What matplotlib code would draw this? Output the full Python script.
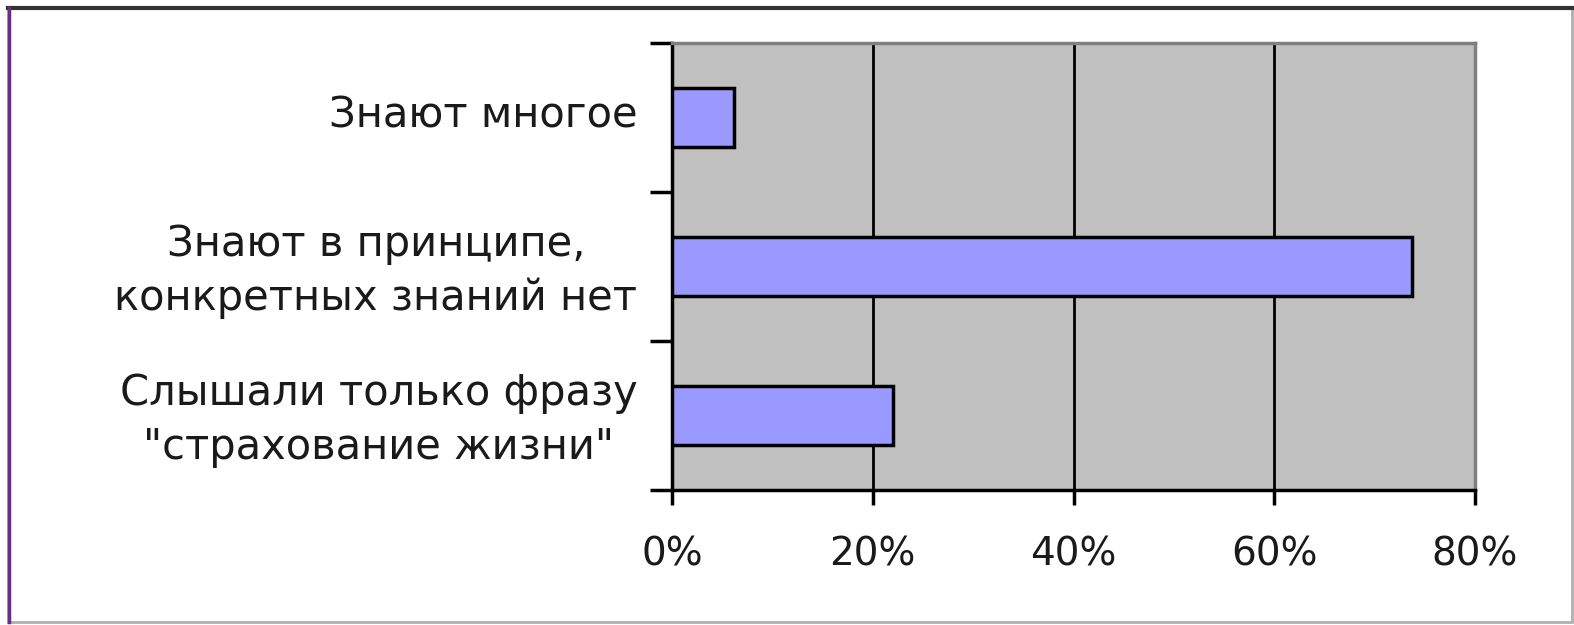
import matplotlib.pyplot as plt
from matplotlib.patches import Rectangle
from matplotlib.lines import Line2D
from matplotlib.ticker import FuncFormatter
from matplotlib.transforms import ScaledTranslation

categories = ['Знают многое',
              'Знают в принципе,\nконкретных знаний нет',
              'Слышали только фразу\n"страхование жизни"']
values = [6.2, 73.7, 22]
xticks = [0, 20, 40, 60, 80]

plt.rcParams['font.family'] = ['DejaVu Sans']

fig = plt.figure(figsize=(15.74, 6.25), dpi=100)
ax = fig.add_axes([672 / 1574, 1 - 490 / 625, (1475 - 672) / 1574, (490 - 43) / 625])

pos = list(range(len(categories)))[::-1]
ax.barh(pos, values, height=0.4, color='#9999ff', edgecolor='black', linewidth=2.5, zorder=3)

ax.set_facecolor('#c0c0c0')
ax.set_xlim(0, 80)
ax.set_ylim(-0.5, len(categories) - 0.5)
ax.set_xticks(xticks)
ax.xaxis.set_major_formatter(FuncFormatter(lambda v, p: f'{v:.0f}%'))
ax.grid(axis='x', color='black', linewidth=2, zorder=1)

ax.set_yticks([p - 0.5 for p in range(len(categories) + 1)])
ax.set_yticklabels([])
ax.set_yticks(pos, minor=True)
ax.set_yticklabels(categories, minor=True, fontsize=30, color='#1a1a1a',
                   ha='right', multialignment='center', linespacing=1.35)
ax.tick_params(axis='y', which='minor', length=0, pad=25)
ax.tick_params(axis='y', which='major', length=16, width=2.5, direction='out')
ax.tick_params(axis='x', length=11, width=2.5, labelsize=28, pad=22, labelcolor='#1a1a1a')

# labels sit a little above the bar centres in the original
shift = ScaledTranslation(0, 6 / 100, fig.dpi_scale_trans)
for lbl in ax.get_yticklabels(minor=True):
    lbl.set_transform(lbl.get_transform() + shift)

for s in ['left', 'bottom']:
    ax.spines[s].set_linewidth(2.5)
    ax.spines[s].set_color('black')
for s in ['top', 'right']:
    ax.spines[s].set_linewidth(2.5)
    ax.spines[s].set_color('#808080')

# outer frame of the picture
fig.add_artist(Rectangle((8 / 1574, 3 / 625), 1 - 10 / 1574, 1 - 11 / 625,
                         transform=fig.transFigure, fill=False,
                         edgecolor='#b0b0b0', linewidth=2))
fig.add_artist(Line2D([8 / 1574, 1 - 2 / 1574], [1 - 8 / 625, 1 - 8 / 625],
                      transform=fig.transFigure, color='#333333', linewidth=3))
fig.add_artist(Line2D([9 / 1574, 9 / 1574], [3 / 625, 1 - 8 / 625],
                      transform=fig.transFigure, color='#6a2c8a', linewidth=2.5))

fig.savefig('out.png', dpi=100)
